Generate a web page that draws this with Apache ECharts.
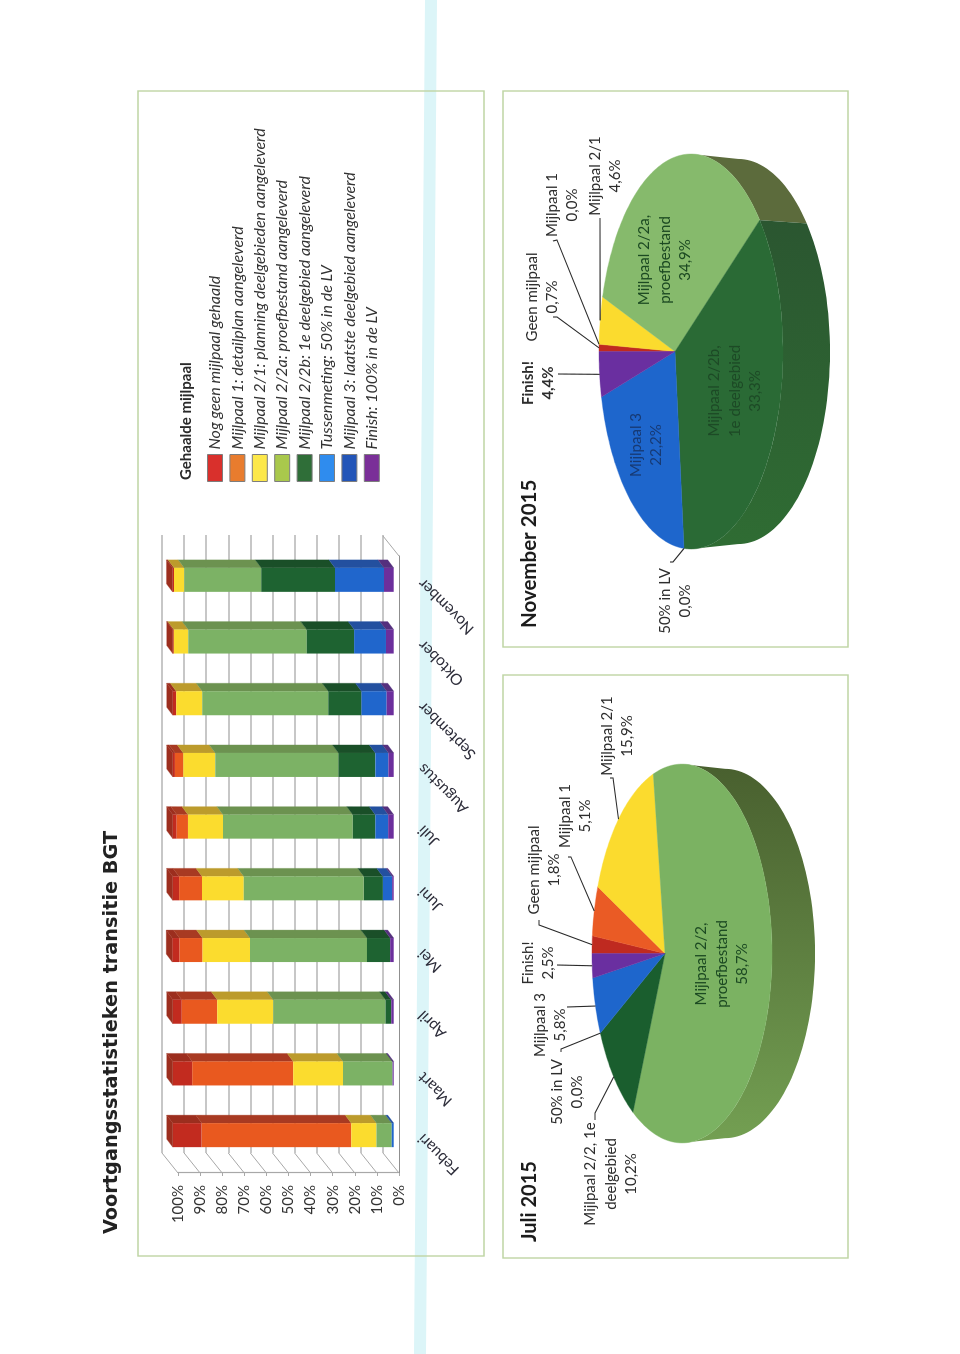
<!DOCTYPE html>
<html>
<head>
<meta charset="utf-8">
<style>
html,body{margin:0;padding:0;background:#fff;width:960px;height:1354px;overflow:hidden}
#chart{position:absolute;left:0;top:0;width:1354px;height:960px;transform-origin:0 0;transform:translateY(1354px) rotate(-90deg)}
</style>
<script src="https://cdn.jsdelivr.net/npm/echarts@6/dist/echarts.min.js"></script>
</head>
<body>
<div id="chart"></div>
<script>
// ---------- data ----------
const categories = ['Febuari','Maart','April','Mei','Juni','Juli','Augustus','September','Oktober','November'];
const valueTicks = [0,10,20,30,40,50,60,70,80,90,100];
const legendNames = [
  'Nog geen mijlpaal gehaald',
  'Mijlpaal 1: detailplan aangeleverd',
  'Mijlpaal 2/1: planning deelgebieden aangeleverd',
  'Mijlpaal 2/2a: proefbestand aangeleverd',
  'Mijlpaal 2/2b: 1e deelgebied aangeleverd',
  'Tussenmeting: 50% in de LV',
  'Mijlpaal 3: laatste deelgebied aangeleverd',
  'Finish: 100% in de LV'
];
const geen    = [13.1,8.9,4.1,3.3,2.9,1.8,1.0,1.6,0.5,0.7];
const m1      = [67.7,45.6,16.1,10.4,10.4,5.1,3.8,0,0,0];
const m21     = [11.4,22.6,25.3,21.5,18.9,15.9,14.4,11.8,6.5,4.6];
const m22a    = [6.9,22.3,50.8,52.9,54.3,58.7,55.8,57.0,53.6,34.9];
const m22b    = [0,0.1,2.6,10.5,8.6,10.2,16.7,15.0,21.5,33.3];
const tussen  = [0,0,0,0,0,0,0,0,0,0];
const m3      = [0.9,0,0,0,4.2,5.8,5.9,11.4,14.4,22.2];
const finish  = [0,0.5,1.1,1.6,0.7,2.5,2.4,3.2,3.5,4.4];
const juliShares     = [1.8,5.1,15.9,58.7,10.2,0,5.8,2.5];
const novemberShares = [0.7,0,4.6,34.9,33.3,0,22.2,4.4];
const juliNames = ['Geen mijlpaal','Mijlpaal 1','Mijlpaal 2/1','Mijlpaal 2/2,\nproefbestand','Mijlpaal 2/2, 1e\ndeelgebied','50% in LV','Mijlpaal 3','Finish!'];
const novemberNames = ['Geen mijlpaal','Mijlpaal 1','Mijlpaal 2/1','Mijlpaal 2/2a,\nproefbestand','Mijlpaal 2/2b,\n1e deelgebied','50% in LV','Mijlpaal 3','Finish!'];

// ---------- styling ----------
const FONT = 'Lato';
const frontColors = ['#C22B1F','#E9591F','#FBDC2E','#7CB265','#1E6331','#2E8CF0','#2066CC','#6C2F9C'];
const sideColors  = ['#9C2E1E','#A83A22','#BC9B2C','#6C9250','#1A4F28','#2060B0','#23509F','#55307E'];
const legendColors= ['#D9302C','#E87C2E','#FDE84A','#A9C84C','#2F6E38','#2F8CEE','#2355B8','#7A2F98'];
const barSeriesData = [geen,m1,m21,m22a,m22b,tussen,m3,finish];

// stacked from the bottom (finish) to the top (geen)
const stackedItems = barSeriesData.map(() => []);
categories.forEach((c, i) => {
  let base = 0, topIdx = 0;
  for (let s = 0; s < barSeriesData.length; s++) if (barSeriesData[s][i] > 0) { topIdx = s; break; }
  for (let s = barSeriesData.length - 1; s >= 0; s--) {
    const v = barSeriesData[s][i];
    stackedItems[s].push([i, base, base + v, s === topIdx ? 1 : 0]);
    base += v;
  }
});

const BAR_OFF = [7, -5.3], BAR_DEPTH = [8, -6], BAR_HALF = 12;
function barRenderer(s) {
  return function (params, api) {
    const i = api.value(0), lo = api.value(1), hi = api.value(2), isTop = api.value(3);
    if (hi <= lo) return null;
    const a = api.coord([i, lo]), b = api.coord([i, hi]);
    const x0 = a[0] + BAR_OFF[0] - BAR_HALF, x1 = a[0] + BAR_OFF[0] + BAR_HALF;
    const y0 = a[1] + BAR_OFF[1], y1 = b[1] + BAR_OFF[1];
    const dx = BAR_DEPTH[0], dy = BAR_DEPTH[1];
    const kids = [
      {type:'polygon', shape:{points:[[x1,y0],[x1,y1],[x1+dx,y1+dy],[x1+dx,y0+dy]]}, style:{fill:sideColors[s],stroke:sideColors[s],lineWidth:0.3}},
      {type:'rect', shape:{x:x0,y:y1,width:x1-x0,height:y0-y1}, style:{fill:frontColors[s]}}
    ];
    if (isTop) kids.push({type:'polygon', shape:{points:[[x0,y1],[x1,y1],[x1+dx,y1+dy],[x0+dx,y1+dy]]}, style:{fill:sideColors[s],stroke:sideColors[s],lineWidth:0.3}});
    return {type:'group', children:kids};
  };
}

// ---------- pies: a circle projected in perspective ----------
function projector(g) {
  return function (deg, lift) {
    const t = deg * Math.PI / 180, X = Math.cos(t), Y = Math.sin(t), w = 1 - g.k * Y;
    const du = g.a * X / w, dv = g.b * Y / w;
    return lift ? [g.cu + du * 0.975, g.cv + dv + g.depth] : [g.cu + du, g.cv + dv];
  };
}
function sliceAngles(values) {
  const total = values.reduce((p, c) => p + c, 0);
  let cum = -90;
  return values.map(v => { const s = cum; cum += v / total * 360; return [s, cum]; });
}
function pieSeries(name, values, g, colors, walls, labels) {
  const P = projector(g), angles = sliceAngles(values);
  const limit = Math.asin(g.k) * 180 / Math.PI;
  const arc = (s, e, step) => { const out = []; const n = Math.max(1, Math.ceil((e - s) / step)); for (let j = 0; j <= n; j++) out.push(s + (e - s) * j / n); return out; };
  const dataItems = values.map((v, i) => [i, v]);
  const wall = {
    type:'custom', name:name+' wall', coordinateSystem:'none', silent:true, z:3, data:dataItems,
    renderItem(params, api) {
      const i = api.value(0), w = walls[i];
      if (!api.value(1) || !w) return null;
      const s = Math.max(angles[i][0], limit), e = Math.min(angles[i][1], 180 - limit);
      if (e <= s) return null;
      const list = arc(s, e, 2);
      const pts = list.map(t => P(t, false)).concat(list.slice().reverse().map(t => P(t, true)));
      return {type:'polygon', shape:{points:pts}, style:{
        fill:new echarts.graphic.LinearGradient(g.cu - g.a, 0, g.cu + g.a, 0, [{offset:0,color:w[0]},{offset:1,color:w[1]}], true),
        stroke:null }};
    }
  };
  const face = {
    type:'custom', name:name, coordinateSystem:'none', silent:true, z:4, data:dataItems,
    renderItem(params, api) {
      const i = api.value(0);
      if (!api.value(1)) return null;
      const pts = [[g.cu, g.cv]].concat(arc(angles[i][0], angles[i][1], 1.5).map(t => P(t, false)));
      return {type:'polygon', shape:{points:pts}, style:{fill:colors[i], stroke:colors[i], lineWidth:0.4}};
    }
  };
  const text = {
    type:'custom', name:name+' labels', coordinateSystem:'none', silent:true, z:6, data:dataItems,
    renderItem(params, api) {
      const i = api.value(0), L = labels.items[i], kids = [];
      const share = api.value(1).toFixed(1).replace('.', ',') + '%';
      if (L.lead) {
        const anchor = P(angles[i][0] + (angles[i][1] - angles[i][0]) * 0.5, false);
        kids.push({type:'polyline', shape:{points:L.lead.concat([anchor])}, style:{fill:null, stroke:'#2b2b2b', lineWidth:1.1}});
      }
      kids.push({type:'text', x:L.at[0], y:L.at[1], style:{
        text:labels.names[i] + '\n' + share, align:'center', verticalAlign:'middle',
        fontFamily:FONT, fontSize:15, lineHeight:20.5, fontWeight:L.bold ? 'bold' : 'normal', fill:L.color || '#2d2d2d'}});
      return {type:'group', children:kids};
    }
  };
  return [wall, face, text];
}

const juliGeom = {cu:400.5, cv:665, a:186, b:86.8, k:0.189, depth:43};
const novGeom  = {cu:1002.5, cv:675, a:194.5, b:89.2, k:0.174, depth:47};
const juliLabels = {names:juliNames, items:[
  {at:[484,544], lead:[[434,539],[429,539]]},
  {at:[538,575], lead:[[497,568],[497,571]]},
  {at:[618,617], lead:[[576,610],[576,613]]},
  {at:[390,722], color:'#1c4a22'},
  {at:[180,611], lead:[[234,595],[241,595]]},
  {at:[262,567], lead:[[302,561],[305,561]]},
  {at:[329,550], lead:[[347,567]]},
  {at:[391,538], lead:[[389,557]]}
]};
const novLabels = {names:novemberNames, items:[
  {at:[1057,542], lead:[[1037,553],[1037,557]]},
  {at:[1149,562], lead:[[1113,553],[1114,557]]},
  {at:[1178,605], lead:[[1136,600]]},
  {at:[1094,665], color:'#1c4a22'},
  {at:[963,735], color:'#1d4a26'},
  {at:[753,675], lead:[[792,670],[792,673]]},
  {at:[909,646], color:'#173a74'},
  {at:[971,538], lead:[[980,558]], bold:true}
]};
const juliColors = ['#BF2A20','#EA5B25','#FBDB2E','#7BB262','#1A5E2E','#2E8CF0','#1E66CC','#6A2FA0'];
const novColors  = ['#BF2A20','#EA5B25','#FBDB2E','#86BA6C','#2A6A35','#2E8CF0','#1E66CC','#6A2FA0'];
const juliWalls = [null,null,null,['#739F52','#49602F'],null,null,null,null];
const novWalls  = [null,null,null,['#5C6B3C','#5C6B3C'],['#2F6C33','#2A5230'],null,null,null];

function panel(x, y, w, h) {
  return {type:'rect', z:1, silent:true, shape:{x:x,y:y,width:w,height:h}, style:{fill:'transparent', stroke:'#BFD5A4', lineWidth:1.4}};
}

const chart = echarts.init(document.getElementById('chart'), null, {renderer:'canvas'});
chart.setOption({
  animation:false,
  backgroundColor:'#fff',
  title:[
    {text:'Voortgangsstatistieken transitie BGT', left:120, top:102, padding:0, textStyle:{fontFamily:'DejaVu Sans', fontWeight:'bold', fontSize:19.3, color:'#222'}},
    {text:'Juli 2015', left:112, top:520, padding:0, textStyle:{fontFamily:FONT, fontWeight:'bold', fontSize:20, color:'#1c1c1c'}},
    {text:'November 2015', left:726, top:519, padding:0, textStyle:{fontFamily:FONT, fontWeight:'bold', fontSize:20.5, color:'#1c1c1c'}},
    {text:'Gehaalde mijlpaal', left:874, top:179, padding:0, textStyle:{fontFamily:FONT, fontWeight:'bold', fontSize:15, color:'#2a2a2a'}}
  ],
  legend:{
    orient:'vertical', left:872, top:207, padding:0, itemWidth:27, itemHeight:15, itemGap:6.4,
    selectedMode:false, icon:'rect',
    textStyle:{fontFamily:FONT, fontStyle:'italic', fontSize:16, color:'#333'},
    data:legendNames.map((n, i) => ({name:n, itemStyle:{color:legendColors[i], borderColor:'#7d7d7d', borderWidth:1}}))
  },
  graphic:[
    {type:'polygon', z:0, silent:true, shape:{points:[[1354,425],[1354,437],[0,426],[0,414]]}, style:{fill:'#DCF5F8'}},
    panel(98,138,1165,346), panel(96,503,583,345), panel(707,503,556,345)
  ],
  grid:[
    {left:181, top:178, width:617, height:221},
    {left:201, top:162, width:618, height:221}
  ],
  xAxis:[
    {type:'category', gridIndex:0, data:categories,
     axisLine:{lineStyle:{color:'#8f8f8f', width:1.2}}, axisTick:{length:6, lineStyle:{color:'#8f8f8f'}},
     axisLabel:{rotate:45, margin:16, interval:0, verticalAlign:'top', fontFamily:FONT, fontSize:15.5, color:'#2d2d3a'}},
    {type:'category', gridIndex:1, data:categories, show:false}
  ],
  yAxis:[
    {type:'value', gridIndex:0, min:0, max:100, interval:10,
     axisLine:{show:true, lineStyle:{color:'#a8a8a8', width:1.2}}, axisTick:{show:true, length:3, lineStyle:{color:'#a8a8a8'}},
     splitLine:{show:false},
     axisLabel:{margin:12, formatter:'{value}%', fontFamily:FONT, fontSize:15, color:'#333'}},
    {type:'value', gridIndex:1, min:0, max:100, interval:10,
     axisLine:{show:false}, axisTick:{show:false}, axisLabel:{show:false},
     splitLine:{show:true, lineStyle:{color:'#b4b4b4', width:1.5}}}
  ],
  series:[
    {type:'custom', name:'wall lines', silent:true, z:1, xAxisIndex:0, yAxisIndex:0,
     data:valueTicks.map(t => [0, t]),
     renderItem(params, api) {
       const p = api.coord([0, api.value(1)]), x = params.coordSys.x;
       const kids = [{type:'line', shape:{x1:x, y1:p[1], x2:x + 20, y2:p[1] - 16}, style:{stroke:'#a8a8a8', lineWidth:1}}];
       if (api.value(1) === 0) {
         const r = x + params.coordSys.width;
         kids.push({type:'line', shape:{x1:r, y1:p[1], x2:r + 20, y2:p[1] - 16}, style:{stroke:'#a8a8a8', lineWidth:1}});
       }
       return {type:'group', children:kids};
     }},
    ...legendNames.map((n, s) => ({
      type:'custom', name:n, xAxisIndex:0, yAxisIndex:0, z:2, silent:true,
      itemStyle:{color:legendColors[s]}, encode:{x:0, y:[1,2]},
      data:stackedItems[s], renderItem:barRenderer(s)
    })),
    ...pieSeries('Juli 2015', juliShares, juliGeom, juliColors, juliWalls, juliLabels),
    ...pieSeries('November 2015', novemberShares, novGeom, novColors, novWalls, novLabels)
  ]
});
</script>
</body>
</html>
